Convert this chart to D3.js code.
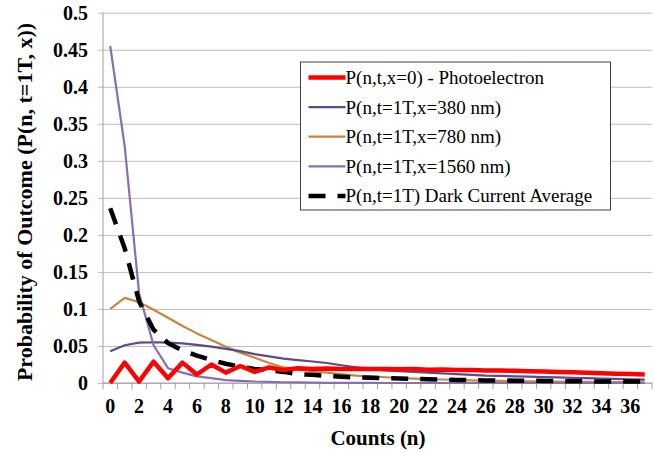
<!DOCTYPE html>
<html>
<head>
<meta charset="utf-8">
<script src="https://cdn.jsdelivr.net/npm/d3@7/dist/d3.min.js"></script>
<style>
  html, body { margin: 0; padding: 0; background: #fff; }
  svg { display: block; }
</style>
</head>
<body>
<svg id="chart" width="654" height="453"></svg>
<script>
// Counts n = 0 … 37
const counts = d3.range(0, 38);

const xTickLabels = d3.range(0, 37, 2);
const yTickValues = [0, 0.05, 0.1, 0.15, 0.2, 0.25, 0.3, 0.35, 0.4, 0.45, 0.5];

const seriesNames = [
  "P(n,t,x=0) - Photoelectron",
  "P(n,t=1T,x=380 nm)",
  "P(n,t=1T,x=780 nm)",
  "P(n,t=1T,x=1560 nm)",
  "P(n,t=1T) Dark Current Average"
];

const photoelectron = [0, 0.0275, 0.002, 0.0288, 0.0065, 0.0275, 0.0115, 0.025, 0.014, 0.023,
  0.015, 0.021, 0.0175, 0.02, 0.019, 0.0195, 0.019, 0.0192, 0.0188, 0.019,
  0.0185, 0.0188, 0.018, 0.0182, 0.0176, 0.0174, 0.017, 0.0168, 0.0164, 0.016,
  0.0155, 0.015, 0.0145, 0.014, 0.0132, 0.0125, 0.012, 0.0115];

const nm380 = [0.043, 0.051, 0.0545, 0.055, 0.0545, 0.0535, 0.0515, 0.049, 0.046, 0.043,
  0.039, 0.036, 0.033, 0.031, 0.029, 0.027, 0.024, 0.021, 0.019, 0.017,
  0.016, 0.015, 0.014, 0.013, 0.012, 0.011, 0.010, 0.0095, 0.009, 0.0085,
  0.008, 0.0075, 0.007, 0.0065, 0.006, 0.0055, 0.005, 0.0045];

const nm780 = [0.1, 0.115, 0.109, 0.099, 0.088, 0.077, 0.067, 0.058, 0.049, 0.041,
  0.034, 0.027, 0.021, 0.018, 0.016, 0.014, 0.012, 0.010, 0.009, 0.0078,
  0.0068, 0.006, 0.0053, 0.0047, 0.0041, 0.0036, 0.0032, 0.0028, 0.0025, 0.0022,
  0.002, 0.0018, 0.0016, 0.0014, 0.0013, 0.0012, 0.0011, 0.001];

const nm1560 = [0.455, 0.32, 0.121, 0.051, 0.02, 0.014, 0.009, 0.0065, 0.004, 0.003,
  0.002, 0.0015, 0.001, 0.0008, 0.0005, 0.0003, 0.0002, 0.0001, 0.0001, 0,
  0, 0, 0, 0, 0, 0, 0, 0, 0, 0,
  0, 0, 0, 0, 0, 0, 0, 0];

const darkCurrent = [0.236, 0.182, 0.11, 0.072, 0.054, 0.044, 0.037, 0.031, 0.026, 0.022,
  0.019, 0.017, 0.015, 0.012, 0.011, 0.0095, 0.0085, 0.0075, 0.007, 0.0065,
  0.006, 0.0055, 0.005, 0.0045, 0.004, 0.004, 0.0035, 0.0035, 0.003, 0.003,
  0.0028, 0.0026, 0.0024, 0.0022, 0.002, 0.002, 0.002, 0.002];

const seriesValues = [photoelectron, nm380, nm780, nm1560, darkCurrent];
const seriesColors = ["#ff0000", "#5e4a8a", "#c9853f", "#8a6fb0", "#000000"];
const seriesWidths = [4.5, 2.2, 2.2, 2.2, 4.5];
const seriesDash = [null, null, null, null, "17,12"];
// drawing order: photoelectron sits on top of the others
const drawOrder = [2, 1, 3, 4, 0];

const SERIF = "'Liberation Serif', 'Times New Roman', serif";

const svg = d3.select("#chart");
const plot = { left: 103, right: 652, top: 12.7, bottom: 383 };

const x = d3.scalePoint().domain(counts).range([plot.left, plot.right]).padding(0.5);
const y = d3.scaleLinear().domain([0, 0.5]).range([plot.bottom, plot.top]);
const step = x.step();

// horizontal gridlines with short outer ticks
const yAxis = d3.axisLeft(y).tickValues(yTickValues).tickSize(-(plot.right - plot.left)).tickFormat("");
const gy = svg.append("g").attr("transform", `translate(${plot.left},0)`).call(yAxis);
gy.select(".domain").remove();
gy.selectAll(".tick line").attr("stroke", "#bdbdbd").attr("stroke-width", 1).attr("x1", -5);

gy.selectAll(".tick").append("text")
  .style("font-family", SERIF).style("font-weight", "bold").style("font-size", "20px")
  .attr("fill", "#000")
  .attr("x", -15).attr("dy", "0.34em")
  .attr("text-anchor", "end")
  .text(d => String(d));

// left axis line
svg.append("line")
  .attr("x1", plot.left).attr("x2", plot.left)
  .attr("y1", plot.top).attr("y2", plot.bottom)
  .attr("stroke", "#a0a0a0").attr("stroke-width", 1);

// bottom axis line and category boundary ticks
svg.append("line")
  .attr("x1", plot.left).attr("x2", plot.right)
  .attr("y1", plot.bottom).attr("y2", plot.bottom)
  .attr("stroke", "#a0a0a0").attr("stroke-width", 1);

const boundaries = d3.range(0, counts.length + 1).map(i => plot.left + i * step);
svg.append("g").selectAll("line").data(boundaries).join("line")
  .attr("x1", d => d).attr("x2", d => d)
  .attr("y1", plot.bottom).attr("y2", plot.bottom + 6)
  .attr("stroke", "#a0a0a0").attr("stroke-width", 1);

svg.append("g").selectAll("text").data(xTickLabels).join("text")
  .style("font-family", SERIF).style("font-weight", "bold").style("font-size", "20px")
  .attr("x", d => x(d)).attr("y", 413)
  .attr("text-anchor", "middle")
  .text(d => d);

// axis titles
svg.append("text")
  .style("font-family", SERIF).style("font-weight", "bold").style("font-size", "21px")
  .attr("x", 378).attr("y", 445)
  .attr("text-anchor", "middle")
  .text("Counts (n)");

svg.append("text")
  .style("font-family", SERIF).style("font-weight", "bold").style("font-size", "22px")
  .attr("transform", "translate(32,202) rotate(-90)")
  .attr("text-anchor", "middle")
  .text("Probability of Outcome (P(n, t=1T, x))");

// series lines
const line = d3.line().x((d, i) => x(counts[i])).y(d => y(d));
drawOrder.forEach(k => {
  svg.append("path")
    .datum(seriesValues[k])
    .attr("d", line)
    .attr("fill", "none")
    .attr("stroke", seriesColors[k])
    .attr("stroke-width", seriesWidths[k])
    .attr("stroke-linejoin", "round")
    .attr("stroke-dasharray", seriesDash[k]);
});

// legend
const legend = svg.append("g").attr("transform", "translate(300.5,62)");
legend.append("rect")
  .attr("width", 310).attr("height", 148)
  .attr("fill", "#fff").attr("stroke", "#404040").attr("stroke-width", 1);

const rows = legend.selectAll("g.row").data(seriesNames).join("g")
  .attr("class", "row")
  .attr("transform", (d, i) => `translate(0,${15.5 + i * 29.6})`);

rows.append("line")
  .attr("x1", 8).attr("x2", 45).attr("y1", 0).attr("y2", 0)
  .attr("stroke", (d, i) => seriesColors[i])
  .attr("stroke-width", (d, i) => seriesWidths[i])
  .attr("stroke-dasharray", (d, i) => seriesDash[i]);

rows.append("text")
  .style("font-family", SERIF).style("font-size", "19px")
  .attr("x", 45).attr("dy", "0.34em")
  .text(d => d);
</script>
</body>
</html>
